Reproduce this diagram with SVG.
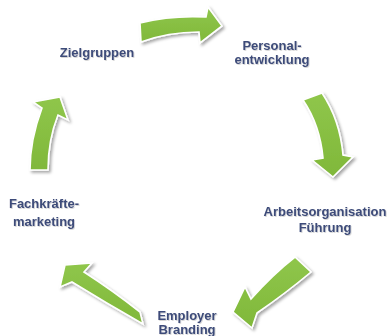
<svg xmlns="http://www.w3.org/2000/svg" width="390" height="336" viewBox="0 0 390 336">
<defs>
<filter id="sh" x="-20%" y="-20%" width="150%" height="150%">
<feDropShadow dx="2" dy="2" stdDeviation="1.5" flood-color="#000" flood-opacity="0.35"/>
</filter>
<filter id="tsh" x="-10%" y="-10%" width="130%" height="140%">
<feDropShadow dx="0.8" dy="0.8" stdDeviation="0.6" flood-color="#000" flood-opacity="0.2"/>
</filter>
<linearGradient id="g" x1="0" y1="0" x2="0" y2="1">
<stop offset="0" stop-color="#8FC64B"/>
<stop offset="1" stop-color="#80B83A"/>
</linearGradient>
</defs>
<style>
.arrow{fill:url(#g);stroke:#fff;stroke-width:1.6;stroke-linejoin:miter;filter:url(#sh)}
.lbl{font-family:"Liberation Sans",Arial,sans-serif;font-weight:bold;font-size:13px;fill:#3D4B79;text-anchor:middle;filter:url(#tsh)}
</style>
<g id="connectors">
<path class="arrow" d="M140,23 Q172,15 206,17 L208,7 L222,26 L200,43 L199,32 Q168,32 141,42 Z"/>
<path class="arrow" d="M303,100 L322,93 Q340,120 343,155 L353,157 L333,177 L312,160 L323,158 Q320,125 303,100 Z"/>
<path class="arrow" d="M295,257 L311,272 Q286,293 257,313 L252,328 L233,312 L245,287 L251,299 Q272,275 295,257 Z"/>
<path class="arrow" d="M143,324 L140,312 Q112,290 84,272 L92,263 L65,265 L60,287 L72,282 Q106,303 143,324 Z"/>
<path class="arrow" d="M30,170 L48,170 Q48,140 58,115 L68,120 L60,97 L33,102 L42,108 Q30,140 30,170 Z"/>
</g>
<g id="zielgruppen"><text class="lbl" x="97" y="57">Zielgruppen</text></g>
<g id="personalentwicklung"><text class="lbl" x="272" y="50">Personal-</text><text class="lbl" x="272" y="64">entwicklung</text></g>
<g id="arbeitsorganisation"><text class="lbl" x="325" y="216">Arbeitsorganisation</text><text class="lbl" x="325" y="232">Führung</text></g>
<g id="employer"><text class="lbl" x="187" y="320">Employer</text><text class="lbl" x="187" y="334">Branding</text></g>
<g id="fachkraefte"><text class="lbl" x="44" y="208">Fachkräfte-</text><text class="lbl" x="44" y="226">marketing</text></g>
</svg>
